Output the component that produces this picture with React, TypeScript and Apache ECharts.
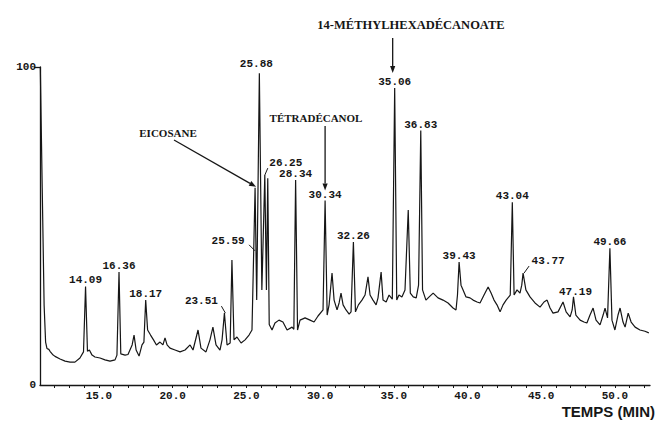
import React, { useEffect, useRef } from "react";
import * as echarts from "echarts";

// Retention time (min) and relative abundance (%)
const times = [
  11.02, 11.15, 11.28, 11.38, 11.47, 11.6, 11.68, 11.85, 12.02, 12.36, 12.7, 13.04, 13.37, 13.71, 13.95,
  14.09, 14.22, 14.35, 14.53, 14.73, 15.07, 15.41, 15.75, 16.09, 16.22, 16.36, 16.48, 16.77, 16.97, 17.25,
  17.38, 17.52, 17.72, 17.92, 18.05, 18.17, 18.3, 18.5, 18.7, 18.9, 19.14, 19.34, 19.48, 19.62, 19.82,
  20.16, 20.5, 20.84, 21.18, 21.38, 21.72, 21.92, 22.26, 22.53, 22.73, 22.94, 23.21, 23.35, 23.51, 23.69,
  23.9, 24.02, 24.16, 24.36, 24.64, 24.91, 25.18, 25.38, 25.59, 25.7, 25.88, 26.05, 26.25, 26.36, 26.45,
  26.55, 26.74, 26.94, 27.21, 27.48, 27.76, 28.1, 28.22, 28.34, 28.47, 28.64, 28.98, 29.32, 29.59, 29.86,
  30.2, 30.34, 30.48, 30.61, 30.81, 30.95, 31.15, 31.29, 31.42, 31.56, 31.76, 31.97, 32.1, 32.26, 32.4,
  32.6, 32.84, 33.05, 33.25, 33.39, 33.59, 33.8, 33.93, 34.14, 34.27, 34.48, 34.68, 34.9, 35.06, 35.2,
  35.35, 35.55, 35.76, 35.98, 36.12, 36.32, 36.52, 36.68, 36.83, 36.95, 37.18, 37.4, 37.67, 38.0, 38.34,
  38.68, 39.02, 39.22, 39.32, 39.43, 39.56, 39.7, 39.9, 40.17, 40.38, 40.65, 40.85, 41.12, 41.4, 41.6,
  41.8, 42.0, 42.21, 42.41, 42.62, 42.9, 43.04, 43.16, 43.36, 43.56, 43.68, 43.77, 43.96, 44.24, 44.58,
  44.92, 45.19, 45.4, 45.6, 45.8, 46.14, 46.48, 46.69, 46.96, 47.1, 47.19, 47.35, 47.64, 47.9, 48.1,
  48.31, 48.52, 48.72, 48.99, 49.2, 49.33, 49.5, 49.66, 49.8, 50.0, 50.21, 50.35, 50.55, 50.69, 50.9,
  51.1, 51.37, 51.7, 52.04, 52.3,
];
const signal = [
  100, 62, 25, 13.5, 11.5, 11.2, 10.6, 9.6, 9.0, 8.2, 7.5, 7.2, 7.2, 8.5, 10.4,
  31, 10.6, 11.0, 9.4, 8.8, 8.5, 7.9, 7.5, 7.9, 9.4, 35.5, 9.8, 9.4, 9.6, 12.6,
  15.7, 11.0, 9.1, 12.6, 13.5, 26.7, 17.3, 15.7, 14.2, 12.6, 13.5, 12.6, 14.8, 12.6, 11.6,
  11.0, 10.4, 11.0, 12.6, 11.0, 17.3, 11.6, 10.4, 14.2, 18.2, 12.6, 11.0, 14.2, 22.6, 12.6,
  13.2, 39.3, 14.2, 15.1, 13.2, 14.2, 15.7, 17.3, 62, 26.7, 98, 29.9, 66, 29.9, 65,
  19, 17.3, 19.5, 20.4, 19.8, 17.3, 18.2, 17.5, 64.5, 17.3, 20.4, 21.1, 20.4, 19.8, 21.7,
  23.6, 58, 22.0, 25.2, 35.2, 26.7, 23.6, 25.8, 28.9, 25.2, 23.6, 22.3, 23.0, 45, 23.0,
  25.2, 26.7, 28.3, 34, 28.3, 26.7, 25.2, 27.4, 35.5, 26.7, 26.1, 28.3, 27, 93.4, 26.7,
  28.3, 27.7, 29.9, 55, 28.9, 27.7, 27.4, 31.4, 80, 29.9, 26.7, 27.7, 28.9, 27.4, 26.7,
  25.8, 24.2, 23.6, 28.3, 38.7, 31.4, 29.9, 27.7, 27.4, 26.7, 26.1, 25.8, 28.3, 30.8, 28.9,
  26.7, 25.2, 23.0, 25.2, 26.7, 28.3, 57.5, 28.3, 29.9, 28.9, 31.4, 35.2, 29.9, 27.7, 25.8,
  24.5, 26.1, 26.7, 24.2, 22.6, 23.0, 26.1, 23.0, 21.4, 23.6, 27.7, 22.0, 20.4, 19.8, 19.5,
  22.0, 24.2, 20.4, 18.9, 22.0, 24.2, 21.1, 43, 20.4, 17.3, 22.0, 24.2, 19.8, 18.2, 22.6,
  19.8, 18.2, 17.3, 16.9, 16.4,
];

const peakTimes = [14.09, 16.36, 18.17, 23.51, 25.59, 25.88, 26.25, 28.34, 30.34, 32.26, 35.06, 36.83, 39.43, 43.04, 43.77, 47.19, 49.66];
const peakLabels = ["14.09", "16.36", "18.17", "23.51", "25.59", "25.88", "26.25", "28.34", "30.34", "32.26", "35.06", "36.83", "39.43", "43.04", "43.77", "47.19", "49.66"];

const compounds = ["EICOSANE", "TÉTRADÉCANOL", "14-MÉTHYLHEXADÉCANOATE"];
const compoundPeaks = [25.59, 30.34, 35.06];

const xTickLabels = [15, 20, 25, 30, 35, 40, 45, 50];
const xTicks = [12, 13, 14, 15, 16, 17, 18, 19, 20, 21, 22, 23, 24, 25, 26, 27, 28, 29, 30, 31, 32, 33, 34, 35, 36, 37, 38, 39, 40, 41, 42, 43, 44, 45, 46, 47, 48, 49, 50, 51, 52];
const yTickLabels = [0, 100];
const xTitle = "TEMPS (MIN)";

const MONO = '"Liberation Mono", "DejaVu Sans Mono", monospace';
const SERIF = '"Liberation Serif", "DejaVu Serif", serif';
const SANS = '"Liberation Sans", Arial, sans-serif';
const INK = "#161616";

// label layout (pixel offsets relative to the peak apex) and leader lines
const labelLayout: Record<string, { dx: number; dy: number; lead?: number[] }> = {
  "23.51": { dx: -23, dy: -12, lead: [-3, -7, 1, 0] },
  "25.59": { dx: -27, dy: 53, lead: [-6, 57, 0, 63] },
  "25.88": { dx: -3, dy: -9 },
  "26.25": { dx: 21, dy: -12, lead: [3, -7, 0, 0] },
  "43.77": { dx: 25, dy: -12, lead: [6, -7, 1, 0] },
  "47.19": { dx: 2, dy: -5 },
};

function arrow(x1: number, y1: number, x2: number, y2: number) {
  const a = Math.atan2(y2 - y1, x2 - x1);
  const head = 7, w = 2.6;
  const bx = x2 - head * Math.cos(a), by = y2 - head * Math.sin(a);
  const px = -Math.sin(a) * w, py = Math.cos(a) * w;
  return [
    { type: "line", silent: true, z: 50, shape: { x1, y1, x2: bx, y2: by }, style: { stroke: INK, lineWidth: 1.3 } },
    { type: "polygon", silent: true, z: 50, shape: { points: [[x2, y2], [bx + px, by + py], [bx - px, by - py]] }, style: { fill: INK } },
  ];
}

export default function App() {
  const ref = useRef<HTMLDivElement>(null);
  useEffect(() => {
    if (!ref.current) return;
    const chart = echarts.init(ref.current, null, { renderer: "svg" });
    const data = times.map((t, i) => [t, signal[i]]);
    chart.setOption({
      animation: false,
      backgroundColor: "#ffffff",
      grid: { left: 40, right: 14, top: 67, bottom: 41 },
      xAxis: {
        type: "value",
        min: 11,
        max: 52.38,
        axisLine: { show: true, lineStyle: { color: INK, width: 1.3 } },
        axisTick: { show: true, customValues: xTicks, length: 3, lineStyle: { color: INK, width: 1 } },
        axisLabel: {
          customValues: xTickLabels,
          formatter: (v: number) => v.toFixed(1),
          color: INK,
          fontFamily: MONO,
          fontWeight: "bold",
          fontSize: 11,
          margin: 5,
        },
        splitLine: { show: false },
      },
      yAxis: {
        type: "value",
        min: 0,
        max: 100,
        axisLine: { show: true, lineStyle: { color: INK, width: 1.3 } },
        axisTick: { show: true, customValues: [100], length: 6, lineStyle: { color: INK, width: 1.3 } },
        axisLabel: {
          customValues: yTickLabels,
          color: INK,
          fontFamily: MONO,
          fontWeight: "bold",
          fontSize: 11,
          margin: 4,
        },
        splitLine: { show: false },
      },
      series: [
        {
          type: "line",
          data,
          showSymbol: false,
          symbol: "none",
          lineStyle: { color: INK, width: 1.2 },
          clip: false,
        },
      ],
    });

    const toPx = (t: number, v: number) =>
      chart.convertToPixel({ xAxisIndex: 0, yAxisIndex: 0 }, [t, v]) as number[];
    const graphics: any[] = [];

    peakTimes.forEach((pt, i) => {
      const idx = times.indexOf(pt);
      const v = signal[idx];
      const [px, py] = toPx(pt, v);
      const lay = labelLayout[peakLabels[i]] || { dx: 0, dy: -6 };
      graphics.push({
        type: "text",
        silent: true,
        z: 40,
        x: px + lay.dx,
        y: py + lay.dy,
        style: {
          text: peakLabels[i],
          fill: INK,
          font: `bold 11px ${MONO}`,
          textAlign: "center",
          textVerticalAlign: "middle",
        },
      });
      if (lay.lead) {
        graphics.push({
          type: "line",
          silent: true,
          z: 40,
          shape: { x1: px + lay.lead[0], y1: py + lay.lead[1], x2: px + lay.lead[2], y2: py + lay.lead[3] },
          style: { stroke: INK, lineWidth: 1 },
        });
      }
    });

    // compound annotations
    const tops = compoundPeaks.map((pt) => toPx(pt, signal[times.indexOf(pt)]));
    graphics.push({
      type: "text", silent: true, z: 50, x: 168, y: 133,
      style: { text: compounds[0], fill: INK, font: `bold 11px ${SERIF}`, textAlign: "center", textVerticalAlign: "middle" },
    });
    graphics.push(...arrow(174, 140, tops[0][0] + 1, tops[0][1] - 1));
    graphics.push({
      type: "text", silent: true, z: 50, x: 316, y: 118,
      style: { text: compounds[1], fill: INK, font: `bold 11px ${SERIF}`, textAlign: "center", textVerticalAlign: "middle" },
    });
    graphics.push(...arrow(tops[1][0], 126, tops[1][0], tops[1][1] - 10));
    graphics.push({
      type: "text", silent: true, z: 50, x: 411, y: 25,
      style: { text: compounds[2], fill: INK, font: `bold 12.5px ${SERIF}`, textAlign: "center", textVerticalAlign: "middle" },
    });
    graphics.push(...arrow(tops[2][0] - 2, 38, tops[2][0] - 2, tops[2][1] - 15));

    // axis title
    graphics.push({
      type: "text", silent: true, z: 50, x: 655, y: 411,
      style: { text: xTitle, fill: INK, font: `bold 15px ${SANS}`, textAlign: "right", textVerticalAlign: "middle" },
    });

    chart.setOption({ graphic: graphics });
    return () => chart.dispose();
  }, []);
  return (
    <div
      ref={ref}
      style={{ position: "fixed", left: 0, top: 0, width: 664, height: 426, background: "#fff" }}
    />
  );
}
